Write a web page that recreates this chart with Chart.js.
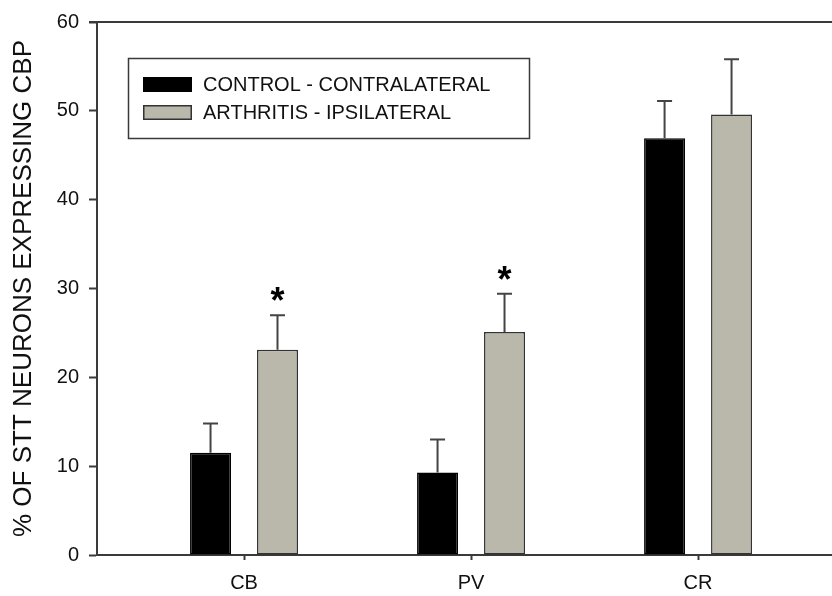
<!DOCTYPE html>
<html>
<head>
<meta charset="utf-8">
<script src="https://cdn.jsdelivr.net/npm/chart.js@4.4.1/dist/chart.umd.min.js"></script>
<style>
  body { margin: 0; background: #fff; }
  canvas { display: block; }
</style>
</head>
<body>
<canvas id="chartContainer" width="832" height="596"></canvas>
<script>
// Calcium binding proteins in STT neurons, mean +/- SEM
var groups = ['CB', 'PV', 'CR'];
var groupPos = [1, 2, 3];
var controlMean = [11.5, 9.3, 46.9];
var controlErr = [3.3, 3.7, 4.2];
var arthritisMean = [23.1, 25.1, 49.6];
var arthritisErr = [3.9, 4.3, 6.2];
var arthritisSig = [true, true, false];
var yTicks = [0, 10, 20, 30, 40, 50, 60];

var fontFamily = '"Liberation Sans", Arial, Helvetica, sans-serif';
var axisColor = '#3a3a3a';

function toPoints(values) {
    return values.map(function (v, i) { return { x: groupPos[i], y: v }; });
}

// error bars and significance stars, drawn on top of the bars
var errorBars = {
    id: 'errorBars',
    afterDatasetsDraw: function (chart) {
        var ctx = chart.ctx;
        var yScale = chart.scales.y;
        chart.data.datasets.forEach(function (ds, i) {
            var meta = chart.getDatasetMeta(i);
            meta.data.forEach(function (bar, j) {
                var top = yScale.getPixelForValue(ds.data[j].y + ds.errors[j]);
                ctx.save();
                ctx.strokeStyle = '#444';
                ctx.lineWidth = 2;
                ctx.beginPath();
                ctx.moveTo(bar.x, bar.y);
                ctx.lineTo(bar.x, top);
                ctx.moveTo(bar.x - 7.5, top);
                ctx.lineTo(bar.x + 7.5, top);
                ctx.stroke();
                if (ds.stars && ds.stars[j]) {
                    ctx.fillStyle = '#000';
                    ctx.font = 'bold 36px ' + fontFamily;
                    ctx.textAlign = 'center';
                    ctx.textBaseline = 'middle';
                    ctx.fillText('*', bar.x, top - 12);
                }
                ctx.restore();
            });
        });
    }
};

// frame line along the top and the boxed legend
var frameAndLegend = {
    id: 'frameAndLegend',
    afterDraw: function (chart) {
        var ctx = chart.ctx;
        var area = chart.chartArea;
        ctx.save();
        ctx.strokeStyle = axisColor;
        ctx.lineWidth = 2;
        ctx.beginPath();
        ctx.moveTo(area.left - 8, area.top);
        ctx.lineTo(area.right, area.top);
        ctx.stroke();

        ctx.lineWidth = 1.5;
        ctx.strokeRect(128.5, 58.5, 401, 80);

        ctx.font = '20px ' + fontFamily;
        ctx.textBaseline = 'middle';
        ctx.textAlign = 'left';
        chart.data.datasets.forEach(function (ds, i) {
            var y = 77 + i * 28;
            ctx.fillStyle = ds.backgroundColor;
            ctx.fillRect(143, y, 49, 15);
            ctx.strokeStyle = ds.borderColor;
            ctx.lineWidth = 1.5;
            ctx.strokeRect(143.75, y + 0.75, 47.5, 13.5);
            ctx.fillStyle = '#111';
            ctx.fillText(ds.label, 203, y + 8);
        });
        ctx.restore();
    }
};

var ctx = document.getElementById('chartContainer').getContext('2d');

var chart = new Chart(ctx, {
    type: 'bar',
    data: {
        datasets: [{
            label: 'CONTROL - CONTRALATERAL',
            data: toPoints(controlMean),
            errors: controlErr,
            backgroundColor: '#000000',
            borderColor: '#000000',
            borderWidth: 1.5,
            borderSkipped: false
        }, {
            label: 'ARTHRITIS - IPSILATERAL',
            data: toPoints(arthritisMean),
            errors: arthritisErr,
            stars: arthritisSig,
            backgroundColor: '#b9b8ab',
            borderColor: '#333333',
            borderWidth: 1.5,
            borderSkipped: false
        }]
    },
    options: {
        responsive: false,
        animation: false,
        categoryPercentage: 0.59,
        barPercentage: 0.612,
        layout: { padding: { top: 15, left: 0, right: 0, bottom: 0 } },
        plugins: {
            legend: { display: false },
            tooltip: { enabled: false }
        },
        scales: {
            x: {
                type: 'linear',
                offset: false,
                min: 0.3524,
                max: 3.59,
                afterBuildTicks: function (scale) {
                    scale.ticks = groupPos.map(function (v) { return { value: v }; });
                },
                afterFit: function (scale) { scale.height = 41; },
                ticks: {
                    color: '#111',
                    padding: 11,
                    maxRotation: 0,
                    autoSkip: false,
                    font: { family: fontFamily, size: 20 },
                    callback: function (value) {
                        var k = groupPos.indexOf(value);
                        return k >= 0 ? groups[k] : '';
                    }
                },
                grid: {
                    offset: false,
                    drawOnChartArea: false,
                    tickLength: 5,
                    tickWidth: 2,
                    color: axisColor
                },
                border: { color: axisColor, width: 2 }
            },
            y: {
                min: 0,
                max: 60,
                afterBuildTicks: function (scale) {
                    scale.ticks = yTicks.map(function (v) { return { value: v }; });
                },
                afterFit: function (scale) { scale.width = 97; },
                ticks: {
                    color: '#111',
                    padding: 10,
                    font: { family: fontFamily, size: 20 }
                },
                grid: {
                    drawOnChartArea: false,
                    tickLength: 8,
                    tickWidth: 2,
                    color: axisColor
                },
                border: { color: axisColor, width: 2 },
                title: {
                    display: true,
                    text: '% OF STT NEURONS EXPRESSING CBP',
                    color: '#111',
                    padding: { top: 8, bottom: 0 },
                    font: { family: fontFamily, size: 26 }
                }
            }
        }
    },
    plugins: [errorBars, frameAndLegend]
});
</script>
</body>
</html>
